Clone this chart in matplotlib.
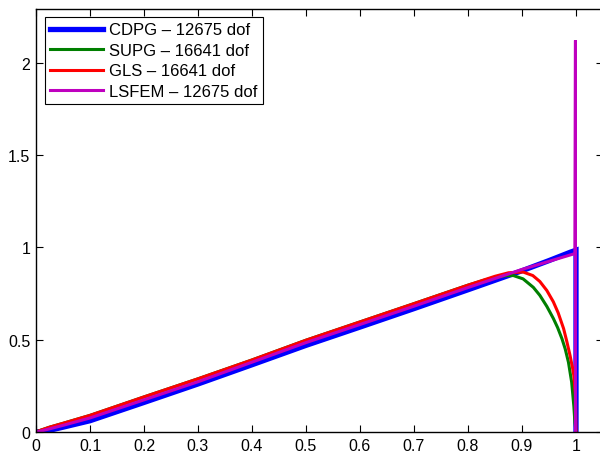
import matplotlib
matplotlib.use("Agg")
import matplotlib.pyplot as plt
from matplotlib.ticker import FuncFormatter

# CDPG
cdpg_x = [0.0, 0.01, 0.025, 0.05, 0.1, 0.2, 0.3, 0.4, 0.5, 0.6, 0.7, 0.8, 0.9, 0.95, 0.99, 1.0, 1.0]
cdpg_y = [0.0, 0.003, 0.009, 0.026, 0.061, 0.160, 0.260, 0.364, 0.469, 0.568, 0.668, 0.770, 0.873, 0.928, 0.974, 0.984, 0.0]
# SUPG
supg_x = [0.0, 0.01, 0.025, 0.05, 0.1, 0.2, 0.3, 0.4, 0.5, 0.6, 0.7, 0.8, 0.83, 0.85, 0.87, 0.884, 0.902, 0.921, 0.933,
          0.946, 0.958, 0.966, 0.974, 0.980, 0.986, 0.992, 0.996, 0.998, 1.0]
supg_y = [0.0, 0.011, 0.026, 0.047, 0.090, 0.190, 0.288, 0.390, 0.497, 0.596, 0.695, 0.795, 0.822, 0.837, 0.846, 0.847, 0.829, 0.783, 0.740,
          0.680, 0.615, 0.565, 0.505, 0.450, 0.378, 0.269, 0.140, 0.05, 0.0]
# GLS
gls_x = [0.0, 0.01, 0.025, 0.05, 0.1, 0.2, 0.3, 0.4, 0.5, 0.6, 0.7, 0.8, 0.85, 0.875, 0.902, 0.920, 0.933, 0.946,
         0.958, 0.967, 0.977, 0.983, 0.989, 0.994, 0.996, 0.999, 1.0]
gls_y = [0.0, 0.011, 0.026, 0.047, 0.090, 0.190, 0.288, 0.390, 0.497, 0.596, 0.695, 0.795, 0.843, 0.862, 0.866, 0.847, 0.815, 0.766,
         0.705, 0.645, 0.560, 0.490, 0.414, 0.341, 0.305, 0.2, 0.0]
# LSFEM
lsfem_x = [0.0, 0.01, 0.025, 0.05, 0.1, 0.2, 0.3, 0.4, 0.5, 0.6, 0.7, 0.8, 0.9, 0.95, 0.998, 0.999, 0.999]
lsfem_y = [0.0, 0.006, 0.017, 0.036, 0.076, 0.174, 0.272, 0.378, 0.484, 0.582, 0.681, 0.782, 0.880, 0.924, 0.966, 2.12, 0.0]

labels = ["CDPG \u2013 12675 dof", "SUPG \u2013 16641 dof", "GLS \u2013 16641 dof", "LSFEM \u2013 12675 dof"]
xticks = [0, 0.1, 0.2, 0.3, 0.4, 0.5, 0.6, 0.7, 0.8, 0.9, 1.0]
yticks = [0, 0.5, 1, 1.5, 2]

plt.rcParams['font.family'] = ['Liberation Sans', 'DejaVu Sans']
fig = plt.figure(figsize=(6.0, 4.56), dpi=100)
ax = fig.add_axes([36/600, 23/456, 567/600, 423/456])

ax.plot(cdpg_x, cdpg_y, color='#0000ff', lw=3.8, label=labels[0], solid_joinstyle='miter')
ax.plot(supg_x, supg_y, color='#007f00', lw=2.2, label=labels[1])
ax.plot(gls_x, gls_y, color='#ff0000', lw=2.2, label=labels[2])
ax.plot(lsfem_x, lsfem_y, color='#bf00bf', lw=2.2, label=labels[3], solid_joinstyle='miter')

ax.set_xlim(0, 1.05)
ax.set_ylim(0, 2.29)
ax.set_xticks(xticks)
ax.set_yticks(yticks)
fmt = FuncFormatter(lambda v, p: ('%g' % v))
ax.xaxis.set_major_formatter(fmt)
ax.yaxis.set_major_formatter(fmt)
ax.tick_params(direction='in', top=True, right=True, labelsize=11.5, length=5, width=0.8, pad=4)
for s in ax.spines.values():
    s.set_linewidth(1.0)

leg = ax.legend(loc='upper left', bbox_to_anchor=(0.01, 0.988), fontsize=12, frameon=True, fancybox=False,
                edgecolor='black', framealpha=1, borderpad=0.3, labelspacing=0.33, handlelength=3.2,
                handletextpad=0.35, borderaxespad=0.2)
leg.get_frame().set_linewidth(0.8)

fig.savefig('out.png', dpi=100)
